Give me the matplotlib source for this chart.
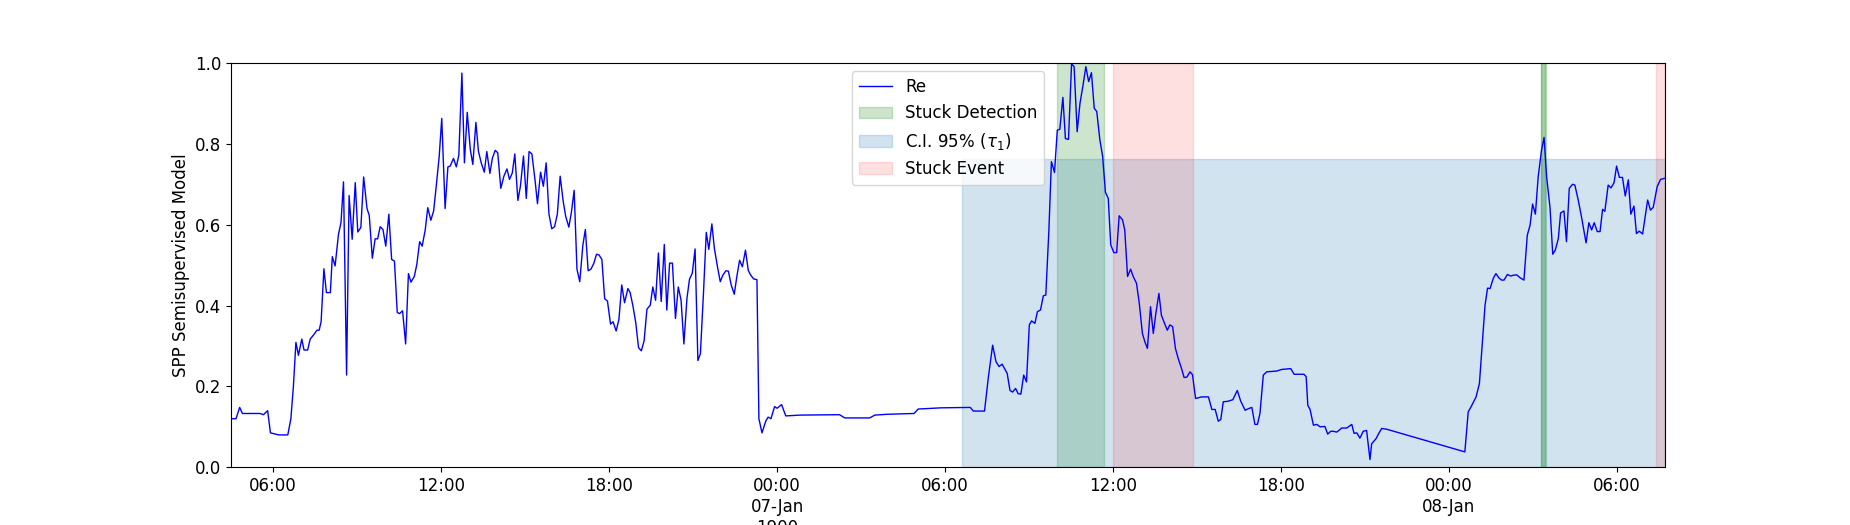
import numpy as np
import pandas as pd
import matplotlib
matplotlib.use("Agg")
import matplotlib.pyplot as plt

plt.rcParams['font.size'] = 12

# hours since 1900-01-06 00:00
hours = [
    4.50, 4.67, 4.80, 4.90, 5.25, 5.53, 5.65, 5.80, 5.90, 6.20, 6.52, 6.63, 6.72, 6.81,
    6.90, 7.02, 7.10, 7.23, 7.32, 7.46, 7.56, 7.64, 7.71, 7.81, 7.90, 8.04, 8.11, 8.21,
    8.33, 8.42, 8.51, 8.62, 8.71, 8.82, 8.93, 9.02, 9.13, 9.23, 9.35, 9.43, 9.54, 9.64,
    9.73, 9.82, 9.92, 10.02, 10.13, 10.23, 10.33, 10.43, 10.51, 10.62, 10.73, 10.83,
    10.92, 11.04, 11.13, 11.23, 11.32, 11.43, 11.52, 11.63, 11.73, 11.82, 11.93, 12.02,
    12.14, 12.24, 12.32, 12.44, 12.54, 12.63, 12.74, 12.83, 12.93, 13.04, 13.13, 13.24,
    13.33, 13.43, 13.54, 13.63, 13.74, 13.83, 13.93, 14.02, 14.13, 14.24, 14.35, 14.44,
    14.54, 14.63, 14.74, 14.83, 14.94, 15.04, 15.14, 15.24, 15.35, 15.44, 15.55, 15.65,
    15.75, 15.85, 15.95, 16.05, 16.15, 16.25, 16.36, 16.45, 16.56, 16.65, 16.75, 16.85,
    16.95, 17.06, 17.15, 17.25, 17.35, 17.45, 17.55, 17.64, 17.74, 17.84, 17.94, 18.05,
    18.14, 18.25, 18.35, 18.45, 18.55, 18.67, 18.75, 18.85, 18.95, 19.05, 19.15, 19.25,
    19.35, 19.47, 19.56, 19.66, 19.76, 19.86, 19.97, 20.06, 20.16, 20.26, 20.37, 20.47,
    20.57, 20.67, 20.78, 20.87, 20.97, 21.07, 21.17, 21.26, 21.37, 21.47, 21.56, 21.67,
    21.76, 21.87, 21.97, 22.06, 22.17, 22.26, 22.36, 22.47, 22.56, 22.66, 22.76, 22.87,
    22.97, 23.06, 23.16, 23.28, 23.35, 23.46, 23.60, 23.68, 23.78, 23.91, 24.00, 24.16,
    24.31, 24.82, 26.23, 26.42, 27.31, 27.49, 27.93, 28.89, 29.04, 29.86, 30.90, 31.01,
    31.41, 31.55, 31.70, 31.82, 31.93, 32.04, 32.12, 32.22, 32.32, 32.41, 32.52, 32.61,
    32.71, 32.81, 32.91, 33.01, 33.09, 33.21, 33.30, 33.41, 33.51, 33.60, 33.71, 33.80,
    33.91, 34.01, 34.10, 34.21, 34.30, 34.41, 34.52, 34.61, 34.72, 34.82, 34.92, 35.03,
    35.13, 35.23, 35.33, 35.42, 35.53, 35.63, 35.73, 35.83, 35.92, 36.03, 36.13, 36.22,
    36.34, 36.42, 36.52, 36.63, 36.72, 36.84, 36.94, 37.05, 37.14, 37.23, 37.34, 37.44,
    37.53, 37.64, 37.73, 37.84, 37.94, 38.03, 38.13, 38.23, 38.33, 38.45, 38.54, 38.64,
    38.75, 38.84, 38.95, 39.06, 39.16, 39.41, 39.53, 39.65, 39.76, 39.85, 39.94, 40.09,
    40.28, 40.44, 40.56, 40.72, 40.84, 40.96, 41.07, 41.16, 41.25, 41.37, 41.49, 41.85,
    42.03, 42.35, 42.47, 42.82, 42.90, 42.96, 43.04, 43.16, 43.28, 43.40, 43.57, 43.67,
    43.78, 43.87, 43.99, 44.07, 44.17, 44.35, 44.53, 44.61, 44.71, 44.82, 44.94, 45.06,
    45.18, 45.24, 45.40, 45.48, 45.60, 45.78, 48.57, 48.69, 48.81, 48.97, 49.09, 49.21,
    49.29, 49.38, 49.47, 49.59, 49.68, 49.79, 49.88, 49.97, 50.09, 50.21, 50.30, 50.42,
    50.54, 50.68, 50.80, 50.90, 50.99, 51.09, 51.19, 51.31, 51.40, 51.49, 51.61, 51.71,
    51.80, 51.91, 51.99, 52.11, 52.20, 52.30, 52.42, 52.50, 52.62, 52.74, 52.90, 53.00,
    53.10, 53.19, 53.30, 53.40, 53.49, 53.57, 53.69, 53.79, 53.90, 53.99, 54.09, 54.20,
    54.30, 54.41, 54.50, 54.61, 54.70, 54.80, 54.92, 55.10, 55.20, 55.30, 55.44, 55.56,
    55.72,
]

re_values = [
    0.120, 0.120, 0.148, 0.133, 0.133, 0.133, 0.130, 0.140, 0.085, 0.080, 0.080, 0.120, 0.200, 0.309,
    0.277, 0.317, 0.290, 0.290, 0.317, 0.329, 0.339, 0.339, 0.360, 0.491, 0.432, 0.432, 0.521, 0.498,
    0.576, 0.605, 0.706, 0.228, 0.672, 0.564, 0.704, 0.582, 0.593, 0.718, 0.640, 0.623, 0.517, 0.565,
    0.565, 0.595, 0.588, 0.547, 0.626, 0.514, 0.510, 0.383, 0.380, 0.387, 0.305, 0.479,
    0.458, 0.472, 0.502, 0.558, 0.547, 0.587, 0.642, 0.611, 0.634, 0.693, 0.770, 0.863,
    0.640, 0.743, 0.745, 0.764, 0.743, 0.772, 0.975, 0.753, 0.878, 0.786, 0.749, 0.853,
    0.782, 0.753, 0.730, 0.781, 0.727, 0.765, 0.784, 0.778, 0.690, 0.720, 0.738, 0.712,
    0.728, 0.775, 0.660, 0.695, 0.770, 0.665, 0.781, 0.775, 0.712, 0.652, 0.730, 0.695,
    0.753, 0.626, 0.590, 0.595, 0.626, 0.720, 0.657, 0.620, 0.594, 0.630, 0.685, 0.490,
    0.459, 0.549, 0.588, 0.486, 0.490, 0.504, 0.527, 0.525, 0.514, 0.417, 0.411, 0.354,
    0.360, 0.337, 0.366, 0.451, 0.407, 0.442, 0.432, 0.399, 0.358, 0.296, 0.288, 0.313,
    0.391, 0.401, 0.446, 0.413, 0.530, 0.410, 0.551, 0.389, 0.505, 0.505, 0.368, 0.446,
    0.413, 0.305, 0.418, 0.465, 0.480, 0.540, 0.264, 0.281, 0.431, 0.581, 0.539, 0.602,
    0.541, 0.496, 0.459, 0.475, 0.486, 0.485, 0.451, 0.428, 0.471, 0.512, 0.496, 0.537,
    0.487, 0.475, 0.466, 0.464, 0.120, 0.085, 0.115, 0.124, 0.120, 0.150, 0.146, 0.155,
    0.127, 0.129, 0.130, 0.122, 0.122, 0.129, 0.131, 0.133, 0.144, 0.147, 0.148, 0.139,
    0.139, 0.224, 0.302, 0.261, 0.249, 0.255, 0.245, 0.232, 0.190, 0.186, 0.195, 0.182,
    0.181, 0.228, 0.211, 0.352, 0.362, 0.356, 0.385, 0.389, 0.424, 0.426, 0.587, 0.756,
    0.729, 0.834, 0.836, 0.915, 0.813, 0.811, 0.998, 0.991, 0.830, 0.900, 0.941, 0.991,
    0.954, 0.976, 0.888, 0.880, 0.810, 0.769, 0.680, 0.665, 0.550, 0.531, 0.531, 0.622,
    0.612, 0.587, 0.472, 0.490, 0.472, 0.455, 0.405, 0.331, 0.310, 0.294, 0.397, 0.331,
    0.380, 0.430, 0.376, 0.356, 0.339, 0.352, 0.348, 0.294, 0.269, 0.244, 0.222, 0.223,
    0.236, 0.229, 0.170, 0.172, 0.174, 0.174, 0.143, 0.143, 0.114, 0.118, 0.162, 0.163,
    0.167, 0.190, 0.164, 0.141, 0.145, 0.148, 0.106, 0.106, 0.133, 0.228, 0.236, 0.238,
    0.242, 0.244, 0.230, 0.230, 0.224, 0.153, 0.143, 0.104, 0.106, 0.100, 0.101, 0.082,
    0.089, 0.089, 0.087, 0.091, 0.097, 0.097, 0.106, 0.084, 0.085, 0.072, 0.089, 0.091,
    0.019, 0.058, 0.071, 0.082, 0.096, 0.094, 0.038, 0.137, 0.152, 0.174, 0.207, 0.322,
    0.400, 0.443, 0.442, 0.468, 0.479, 0.468, 0.463, 0.463, 0.477, 0.473, 0.475, 0.476,
    0.469, 0.463, 0.574, 0.599, 0.651, 0.626, 0.719, 0.785, 0.816, 0.719, 0.644, 0.527,
    0.537, 0.566, 0.629, 0.634, 0.558, 0.690, 0.700, 0.698, 0.661, 0.618, 0.555, 0.605,
    0.587, 0.605, 0.583, 0.583, 0.638, 0.633, 0.698, 0.691, 0.704, 0.745, 0.717, 0.717,
    0.671, 0.711, 0.626, 0.646, 0.578, 0.584, 0.577, 0.661, 0.636, 0.643, 0.694, 0.712,
    0.715,
]

# detections drawn one span each; the short one near 03:20 was flagged twice
detect_start = [34.00, 51.29, 51.30]
detect_end = [35.68, 51.46, 51.45]
event_start = [36.00, 55.40]
event_end = [38.86, 55.72]
ci_start = 30.62
ci_upper = 0.763

tick_hours = [6, 12, 18, 24, 30, 36, 42, 48, 54]
tick_labels = ['06:00', '12:00', '18:00', '00:00\n07-Jan\n1900', '06:00',
               '12:00', '18:00', '00:00\n08-Jan', '06:00']

t0 = pd.Timestamp('1900-01-06')


def to_time(h):
    return t0 + pd.to_timedelta(np.asarray(h), unit='h')


times = to_time(hours)

fig, ax = plt.subplots(figsize=(18.5, 5.25), dpi=100)
ax.plot(times, re_values, color='blue', lw=1, label='Re')

for i, (s, e) in enumerate(zip(to_time(detect_start), to_time(detect_end))):
    ax.axvspan(s, e, color='green', alpha=0.2,
               label='Stuck Detection' if i == 0 else None)

ci_x = to_time([ci_start, hours[-1]])
ax.fill_between(ci_x, 0, ci_upper, color='tab:blue', alpha=0.2,
                label=r'C.I. 95% ($\tau_1$)')

for i, (s, e) in enumerate(zip(to_time(event_start), to_time(event_end))):
    ax.axvspan(s, e, color='red', alpha=0.12,
               label='Stuck Event' if i == 0 else None)

ax.set_xlim(times[0], times[-1])
ax.set_ylim(0, 1)
ax.set_xticks(to_time(tick_hours), tick_labels)
ax.set_ylabel('SPP Semisupervised Model')
ax.legend(loc='upper center')

fig.savefig('out.png', dpi=100)
